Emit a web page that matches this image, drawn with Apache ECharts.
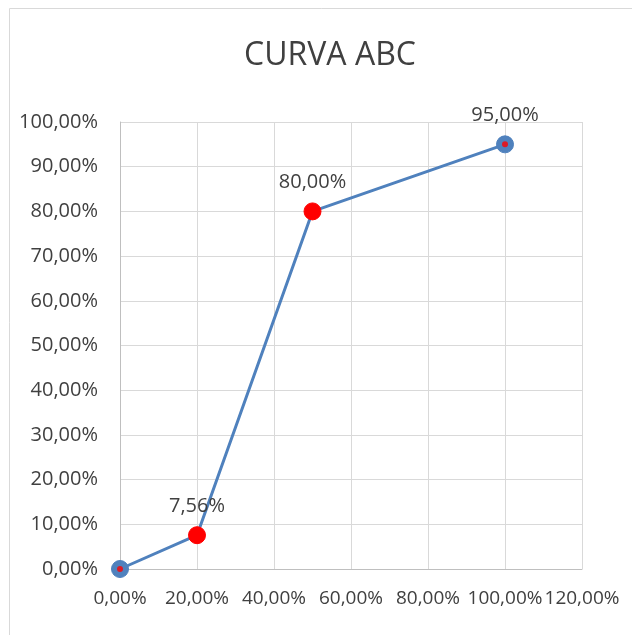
<!DOCTYPE html>
<html>
<head>
	<meta charset="utf-8">
	<title>CURVA ABC</title>
	<script src="https://cdn.jsdelivr.net/npm/echarts@6/dist/echarts.min.js"></script>
	<style>
		html, body { margin: 0; padding: 0; background: #fff; }
	</style>
</head>
<body>
	<div id="main" style="width: 632px;height: 635px;"></div>
	<script>
		// dados da curva (em %)
		var xValores = [0, 20, 50, 100];
		var yValores = [0, 7.56, 80, 95];
		// pontos destacados em vermelho
		var destaque = [1, 2];

		function pct(v) {
			return v.toFixed(2).replace('.', ',') + '%';
		}

		var fonte = 'Open Sans';
		var azul = '#4f81bd';
		var vermelho = '#ff0000';

		var pontos = xValores.map(function (x, i) {
			var p = { value: [x, yValores[i]] };
			if (destaque.indexOf(i) >= 0) {
				p.itemStyle = { color: vermelho, borderColor: vermelho };
			}
			if (i === 0) {
				p.label = { show: false };
			}
			return p;
		});

		var myChart = echarts.init(document.getElementById('main'));
		var option = {
			animation: false,
			title: {
				text: 'CURVA ABC',
				left: 325,
				textAlign: 'center',
				top: 35,
				textStyle: {
					fontFamily: fonte,
					fontSize: 32,
					fontWeight: 'normal',
					color: '#404040'
				}
			},
			graphic: [{
				type: 'rect',
				shape: { x: 9.5, y: 8.5, width: 700, height: 700 },
				style: { fill: 'none', stroke: '#d9d9d9', lineWidth: 1 },
				silent: true,
				z: -1
			}],
			grid: {
				left: 120,
				top: 122,
				right: 50,
				bottom: 66
			},
			xAxis: {
				type: 'value',
				min: 0,
				max: 120,
				interval: 20,
				axisLine: { show: true, lineStyle: { color: '#bfbfbf', width: 1 } },
				axisTick: { show: false },
				splitLine: { show: true, lineStyle: { color: '#d9d9d9', width: 1 } },
				axisLabel: {
					formatter: pct,
					margin: 20,
					showMinLabel: true,
					showMaxLabel: true,
					hideOverlap: false,
					fontFamily: fonte,
					fontSize: 19,
					color: '#404040'
				}
			},
			yAxis: {
				type: 'value',
				min: 0,
				max: 100,
				interval: 10,
				axisLine: { show: true, lineStyle: { color: '#bfbfbf', width: 1 } },
				axisTick: { show: false },
				splitLine: { show: true, lineStyle: { color: '#d9d9d9', width: 1 } },
				axisLabel: {
					formatter: pct,
					margin: 22,
					fontFamily: fonte,
					fontSize: 20,
					color: '#404040'
				}
			},
			series: [{
				type: 'line',
				data: pontos,
				symbol: 'circle',
				symbolSize: 17,
				lineStyle: { color: azul, width: 3 },
				itemStyle: { color: azul, borderColor: azul },
				label: {
					show: true,
					position: 'top',
					distance: 10,
					formatter: function (p) { return pct(p.value[1]); },
					fontFamily: fonte,
					fontSize: 20,
					color: '#404040'
				},
				z: 2
			}, {
				type: 'scatter',
				data: xValores.map(function (x, i) { return [x, yValores[i]]; }),
				symbol: 'circle',
				symbolSize: 6,
				itemStyle: { color: vermelho },
				silent: true,
				z: 3
			}]
		};
		myChart.setOption(option);
	</script>
</body>
</html>
